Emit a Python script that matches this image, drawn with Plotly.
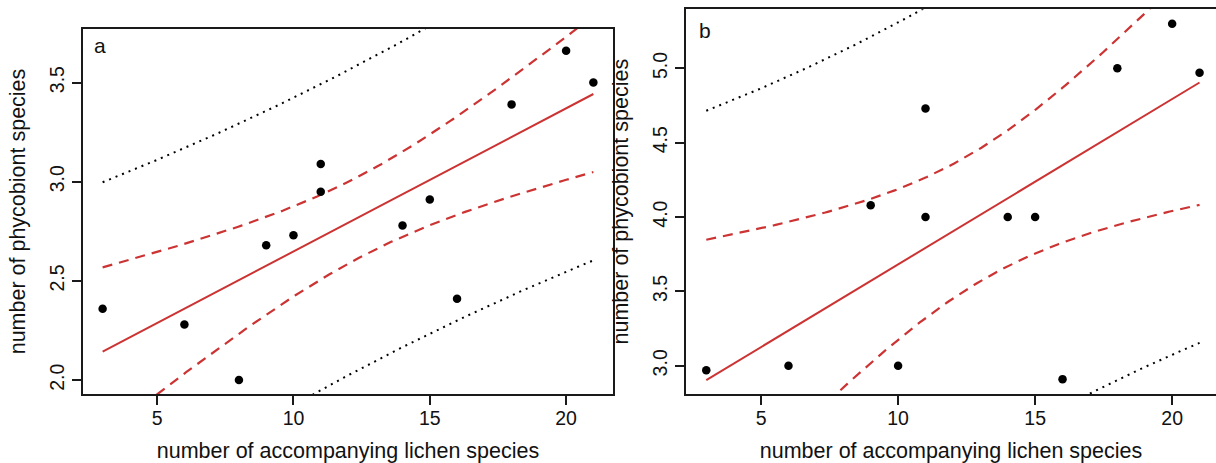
import numpy as np
import plotly.graph_objects as go

# Panel a: phycobiont richness vs accompanying lichen species
a_lichen = [3, 6, 8, 9, 10, 11, 11, 14, 15, 16, 18, 20, 21]
a_phyco = [2.36, 2.28, 2.00, 2.68, 2.73, 3.09, 2.95, 2.78, 2.91, 2.41, 3.39, 3.66, 3.50]

# Panel b
b_lichen = [3, 6, 9, 10, 11, 11, 14, 15, 16, 18, 20, 21]
b_phyco = [2.97, 3.00, 4.08, 3.00, 4.73, 4.00, 4.00, 4.00, 2.91, 5.00, 5.30, 4.97]

x_ticks = [5, 10, 15, 20]
a_yticks = [2.0, 2.5, 3.0, 3.5]
b_yticks = [3.0, 3.5, 4.0, 4.5, 5.0]

# Student t multipliers (two-sided 96 %) keyed by residual degrees of freedom
T_CRIT = {10: 2.359, 11: 2.328}


def linear_fit_bands(x, y, n_grid=200):
    x = np.asarray(x, float)
    y = np.asarray(y, float)
    n = len(x)
    slope, intercept = np.polyfit(x, y, 1)
    resid = y - (intercept + slope * x)
    s = np.sqrt(np.sum(resid ** 2) / (n - 2))
    sxx = np.sum((x - x.mean()) ** 2)
    grid = np.linspace(x.min(), x.max(), n_grid)
    fit = intercept + slope * grid
    t = T_CRIT[n - 2]
    se_mean = s * np.sqrt(1 / n + (grid - x.mean()) ** 2 / sxx)
    se_pred = s * np.sqrt(1 + 1 / n + (grid - x.mean()) ** 2 / sxx)
    return grid, fit, t * se_mean, t * se_pred


RED = "#cc3333"
AX = "#1a1a1a"
FONT = "Liberation Sans, Arial, sans-serif"

fig = go.Figure()

panels = [
    ("x", "y", a_lichen, a_phyco),
    ("x2", "y2", b_lichen, b_phyco),
]
for xa, ya, xs, ys in panels:
    grid, fit, ci, pi = linear_fit_bands(xs, ys)
    for sign in (1, -1):
        # prediction interval (dotted) and confidence interval (dashed)
        fig.add_trace(go.Scatter(x=grid, y=fit + sign * pi, mode="lines",
                                 line=dict(color="black", width=2, dash="2px,5px"),
                                 xaxis=xa, yaxis=ya, showlegend=False, hoverinfo="skip"))
        fig.add_trace(go.Scatter(x=grid, y=fit + sign * ci, mode="lines",
                                 line=dict(color=RED, width=2.2, dash="10px,7px"),
                                 xaxis=xa, yaxis=ya, showlegend=False, hoverinfo="skip"))
    fig.add_trace(go.Scatter(x=grid, y=fit, mode="lines",
                             line=dict(color=RED, width=2),
                             xaxis=xa, yaxis=ya, showlegend=False, hoverinfo="skip"))
    fig.add_trace(go.Scatter(x=xs, y=ys, mode="markers",
                             marker=dict(color="black", size=8.5),
                             xaxis=xa, yaxis=ya, showlegend=False))

common_x = dict(
    tickmode="array", tickvals=x_ticks, ticks="outside", ticklen=9, tickwidth=1.5,
    tickcolor=AX, showline=True, linecolor=AX, linewidth=2, mirror=True,
    showgrid=False, zeroline=False, tickfont=dict(family=FONT, size=19.5, color="#111"),
    ticklabelstandoff=-3,
    title=dict(text="number of accompanying lichen species",
               font=dict(family=FONT, size=21.5, color="#111"), standoff=17),
)
common_y = dict(
    ticks="outside", ticklen=9, tickwidth=1.5, tickangle=-90,
    tickcolor=AX, showline=True, linecolor=AX, linewidth=2,
    showgrid=False, zeroline=False, tickfont=dict(family=FONT, size=19.5, color="#111"),
    ticklabelstandoff=0,
    title=dict(text="number of phycobiont species",
               font=dict(family=FONT, size=21.5, color="#111"), standoff=15),
)

W, H = 1216, 463
fig.update_layout(
    width=W, height=H,
    margin=dict(l=0, r=0, t=0, b=0),
    paper_bgcolor="white", plot_bgcolor="white",
    xaxis=dict(common_x, domain=[83 / W, 613 / W], range=[2.28, 21.72], anchor="y"),
    yaxis=dict(common_y, domain=[1 - 394 / H, 1 - 29 / H], range=[1.93, 3.77],
               tickmode="array", tickvals=a_yticks, ticktext=[f"{v:.1f}" for v in a_yticks],
               mirror=True, anchor="x"),
    xaxis2=dict(common_x, domain=[686 / W, 1.0], range=[2.26, 21.60], anchor="y2"),
    yaxis2=dict(common_y, domain=[1 - 394 / H, 1 - 9.3 / H], range=[2.81, 5.397],
                tickmode="array", tickvals=b_yticks, ticktext=[f"{v:.1f}" for v in b_yticks],
                mirror=False, anchor="x2"),
    annotations=[
        dict(text="a", xref="x domain", yref="y domain", x=0.017, y=0.955,
             xanchor="left", yanchor="middle", showarrow=False,
             font=dict(family=FONT, size=21, color="#111")),
        dict(text="b", xref="x2 domain", yref="y2 domain", x=0.021, y=0.944,
             xanchor="left", yanchor="middle", showarrow=False,
             font=dict(family=FONT, size=21, color="#111")),
    ],
)

fig.write_html("out.html")
